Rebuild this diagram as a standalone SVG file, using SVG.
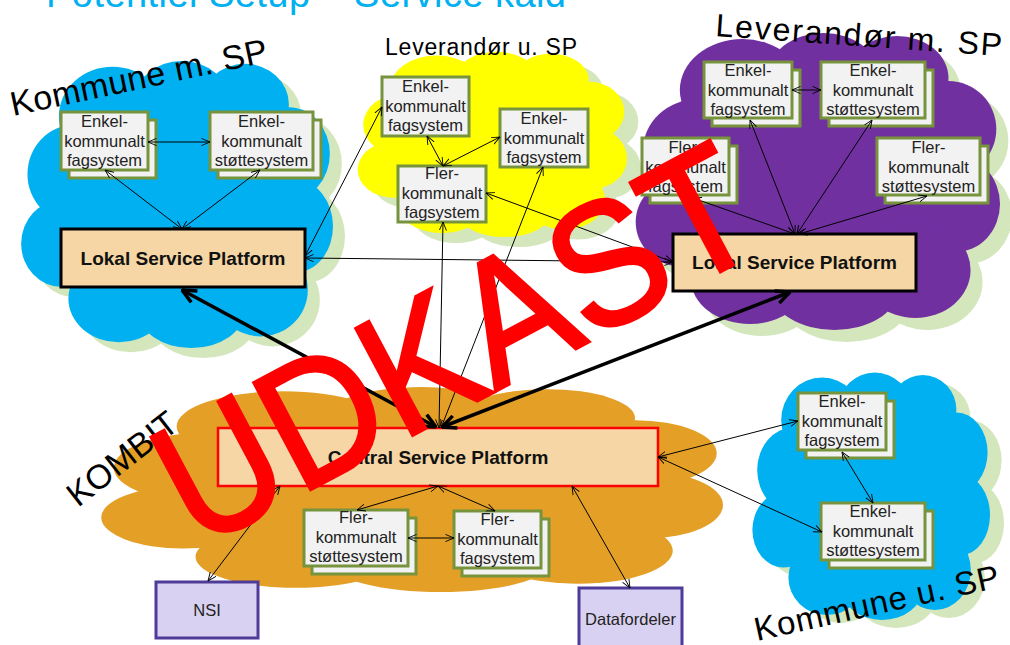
<svg xmlns="http://www.w3.org/2000/svg" xmlns:xlink="http://www.w3.org/1999/xlink" width="1010" height="645" viewBox="0 0 1010 645">
<style>
text{font-family:"Liberation Sans",Arial,sans-serif;}
.bx{fill:#F2F2F2;stroke:#77933C;stroke-width:3;}
.bt{font-size:16.5px;fill:#222;text-anchor:middle;}
.lsp{fill:#F5D6A4;stroke:#000;stroke-width:3;}
.csp{fill:#F5D6A4;stroke:#FF0000;stroke-width:2.5;}
.pt{font-size:19px;font-weight:bold;fill:#111;text-anchor:middle;}
.ext{fill:#D9D1F1;stroke:#4F3B98;stroke-width:3;}
.et{font-size:16.5px;fill:#222;text-anchor:middle;}
.ln{stroke:#000;stroke-width:1;fill:none;marker-start:url(#ah);marker-end:url(#ah);}
.tk{stroke:#000;stroke-width:3.5;fill:none;marker-start:url(#ahT);marker-end:url(#ahT);}
.lbl{fill:#000;}
</style>
<defs>
<symbol id="cloud" viewBox="0 0 100 100" preserveAspectRatio="none">
<ellipse cx="50" cy="52" rx="38" ry="36"/>
<ellipse cx="18" cy="40" rx="15" ry="17"/>
<ellipse cx="30" cy="20" rx="17" ry="17"/>
<ellipse cx="52" cy="15" rx="15" ry="14"/>
<ellipse cx="72" cy="16" rx="14" ry="14"/>
<ellipse cx="86" cy="33" rx="13" ry="16"/>
<ellipse cx="88" cy="58" rx="12" ry="16"/>
<ellipse cx="77" cy="80" rx="15" ry="16"/>
<ellipse cx="55" cy="87" rx="17" ry="13"/>
<ellipse cx="32" cy="83" rx="16" ry="15"/>
<ellipse cx="14" cy="64" rx="13" ry="15"/>
</symbol>
<marker id="ah" viewBox="0 0 10 10" refX="9.5" refY="5" markerWidth="9" markerHeight="9" markerUnits="userSpaceOnUse" orient="auto-start-reverse">
<path d="M0,1 L9.5,5 L0,9" fill="none" stroke="#000" stroke-width="1"/>
</marker>
<marker id="ahT" viewBox="0 0 16 16" refX="15" refY="8" markerWidth="16" markerHeight="16" markerUnits="userSpaceOnUse" orient="auto-start-reverse">
<path d="M1,1.5 L15,8 L1,14.5" fill="none" stroke="#000" stroke-width="3.5"/>
</marker>
</defs>
<rect width="1010" height="645" fill="#fff"/>

<g id="title"><text x="46" y="7" font-size="38" fill="#00B0F0" textLength="520">Potentiel Setup – Service kald</text></g>

<g id="clouds">
<use xlink:href="#cloud" x="30" y="68" width="315" height="290" fill="#D4E6BC"/>
<use xlink:href="#cloud" x="18" y="58" width="315" height="290" fill="#00B0F0"/>
<use xlink:href="#cloud" x="369" y="60" width="272" height="187" fill="#D4E6BC"/>
<use xlink:href="#cloud" x="355" y="50" width="272" height="187" fill="#FFFF00"/>
<use xlink:href="#cloud" x="644" y="42" width="368" height="300" fill="#D4E6BC"/>
<use xlink:href="#cloud" x="632" y="30" width="368" height="300" fill="#7030A0"/>
<use xlink:href="#cloud" x="95" y="385" width="628" height="207" fill="#E49F27"/>
<use xlink:href="#cloud" x="764" y="378" width="240" height="250" fill="#D4E6BC"/>
<use xlink:href="#cloud" x="750" y="370" width="240" height="250" fill="#00B0F0"/>
</g>

<g id="labels">
<text class="lbl" transform="translate(13,116) rotate(-12)" font-size="34" textLength="262">Kommune m. SP</text>
<text class="lbl" x="385" y="55" font-size="23" textLength="192">Leverandør u. SP</text>
<text class="lbl" transform="translate(715,36) rotate(4)" font-size="32" textLength="287">Leverandør m. SP</text>
<text class="lbl" transform="translate(78,508) rotate(-38)" font-size="34">KOMBIT</text>
<text class="lbl" transform="translate(757,641) rotate(-12.5)" font-size="33" textLength="250">Kommune u. SP</text>
</g>

<g id="lsp-kommune"><rect class="lsp" x="61" y="229" width="244" height="58"/><text class="pt" x="183" y="265">Lokal Service Platform</text></g>
<g id="lsp-leverandor"><rect class="lsp" x="673" y="234" width="243" height="57"/><text class="pt" x="794.5" y="269">Lokal Service Platform</text></g>
<g id="central-sp"><rect class="csp" x="218" y="428" width="440" height="58"/><text class="pt" x="438" y="464">Central Service Platform</text></g>
<g id="nsi"><rect class="ext" x="156" y="582" width="102" height="56"/><text class="et" x="207" y="616">NSI</text></g>
<g id="datafordeler"><rect class="ext" x="579" y="588" width="103" height="70"/><text class="et" x="630.5" y="625">Datafordeler</text></g>

<g id="km-fag"><rect class="bx" x="69" y="120" width="87" height="58"/><rect class="bx" x="61" y="112" width="87" height="58"/><text class="bt"><tspan x="104.5" y="127">Enkel-</tspan><tspan x="104.5" y="146.5">kommunalt</tspan><tspan x="104.5" y="166">fagsystem</tspan></text></g>
<g id="km-stotte"><rect class="bx" x="218" y="120" width="103" height="58"/><rect class="bx" x="210" y="112" width="103" height="58"/><text class="bt"><tspan x="261.5" y="127">Enkel-</tspan><tspan x="261.5" y="146.5">kommunalt</tspan><tspan x="261.5" y="166">støttesystem</tspan></text></g>

<g id="lu-fag1"><rect class="bx" x="382" y="77" width="87" height="59"/><text class="bt"><tspan x="425.5" y="92">Enkel-</tspan><tspan x="425.5" y="112">kommunalt</tspan><tspan x="425.5" y="131">fagsystem</tspan></text></g>
<g id="lu-fag2"><rect class="bx" x="500" y="109" width="88" height="58"/><text class="bt"><tspan x="544" y="124">Enkel-</tspan><tspan x="544" y="144">kommunalt</tspan><tspan x="544" y="163">fagsystem</tspan></text></g>
<g id="lu-fler"><rect class="bx" x="398" y="166" width="88" height="56"/><text class="bt"><tspan x="442" y="179">Fler-</tspan><tspan x="442" y="199">kommunalt</tspan><tspan x="442" y="218">fagsystem</tspan></text></g>

<g id="lm-fag"><rect class="bx" x="712" y="70" width="88" height="56"/><rect class="bx" x="704" y="62" width="88" height="56"/><text class="bt"><tspan x="748" y="76">Enkel-</tspan><tspan x="748" y="95.5">kommunalt</tspan><tspan x="748" y="115">fagsystem</tspan></text></g>
<g id="lm-stotte"><rect class="bx" x="829" y="70" width="104" height="56"/><rect class="bx" x="821" y="62" width="104" height="56"/><text class="bt"><tspan x="873" y="76">Enkel-</tspan><tspan x="873" y="95.5">kommunalt</tspan><tspan x="873" y="115">støttesystem</tspan></text></g>
<g id="lm-flerfag"><rect class="bx" x="650" y="146" width="87" height="57"/><rect class="bx" x="642" y="138" width="87" height="57"/><text class="bt"><tspan x="685.5" y="153">Fler-</tspan><tspan x="685.5" y="172.5">kommunalt</tspan><tspan x="685.5" y="192">fagsystem</tspan></text></g>
<g id="lm-flerstotte"><rect class="bx" x="885" y="146" width="103" height="57"/><rect class="bx" x="877" y="138" width="103" height="57"/><text class="bt"><tspan x="928.5" y="153">Fler-</tspan><tspan x="928.5" y="172.5">kommunalt</tspan><tspan x="928.5" y="192">støttesystem</tspan></text></g>

<g id="kb-flerstotte"><rect class="bx" x="312" y="518" width="104" height="56"/><rect class="bx" x="304" y="510" width="104" height="56"/><text class="bt"><tspan x="356" y="523">Fler-</tspan><tspan x="356" y="543">kommunalt</tspan><tspan x="356" y="562">støttesystem</tspan></text></g>
<g id="kb-flerfag"><rect class="bx" x="462" y="519" width="87" height="57"/><rect class="bx" x="454" y="511" width="87" height="57"/><text class="bt"><tspan x="497.5" y="525">Fler-</tspan><tspan x="497.5" y="545">kommunalt</tspan><tspan x="497.5" y="564">fagsystem</tspan></text></g>

<g id="ku-fag"><rect class="bx" x="806" y="401" width="88" height="57"/><rect class="bx" x="798" y="393" width="88" height="57"/><text class="bt"><tspan x="842" y="407">Enkel-</tspan><tspan x="842" y="427">kommunalt</tspan><tspan x="842" y="446">fagsystem</tspan></text></g>
<g id="ku-stotte"><rect class="bx" x="829" y="511" width="104" height="57"/><rect class="bx" x="821" y="503" width="104" height="57"/><text class="bt"><tspan x="873" y="517">Enkel-</tspan><tspan x="873" y="537">kommunalt</tspan><tspan x="873" y="556">støttesystem</tspan></text></g>

<g id="connectors">
<path class="ln" d="M148,142 L210,142"/>
<path class="ln" d="M105,170 L182,229"/>
<path class="ln" d="M260,170 L182,229"/>
<path class="ln" d="M305,256 L382,107"/>
<path class="ln" d="M305,258 L673,262"/>
<path class="ln" d="M486,193 L673,262"/>
<path class="ln" d="M427,136 L443,166"/>
<path class="ln" d="M443,166 L500,137"/>
<path class="ln" d="M443,222 L439,428"/>
<path class="ln" d="M543,167 L441,428"/>
<path class="ln" d="M792,90 L821,90"/>
<path class="ln" d="M750,120 L795,234"/>
<path class="ln" d="M872,120 L797,234"/>
<path class="ln" d="M693,198 L795,234"/>
<path class="ln" d="M927,196 L799,234"/>
<path class="ln" d="M438,486 L357,510"/>
<path class="ln" d="M438,486 L495,511"/>
<path class="ln" d="M408,538 L454,538"/>
<path class="ln" d="M280,486 L208,581"/>
<path class="ln" d="M572,486 L630,588"/>
<path class="ln" d="M658,457 L798,421"/>
<path class="ln" d="M658,457 L822,532"/>
<path class="ln" d="M842,452 L873,503"/>
<path class="tk" d="M182,290 L436,427"/>
<path class="tk" d="M790,292 L442,427"/>
</g>

<g id="watermark"><text transform="translate(197,550) rotate(-28) scale(1,1.1)" font-size="160" fill="#FF0000" stroke="#FF0000" stroke-width="3">UDKAST</text></g>
</svg>
